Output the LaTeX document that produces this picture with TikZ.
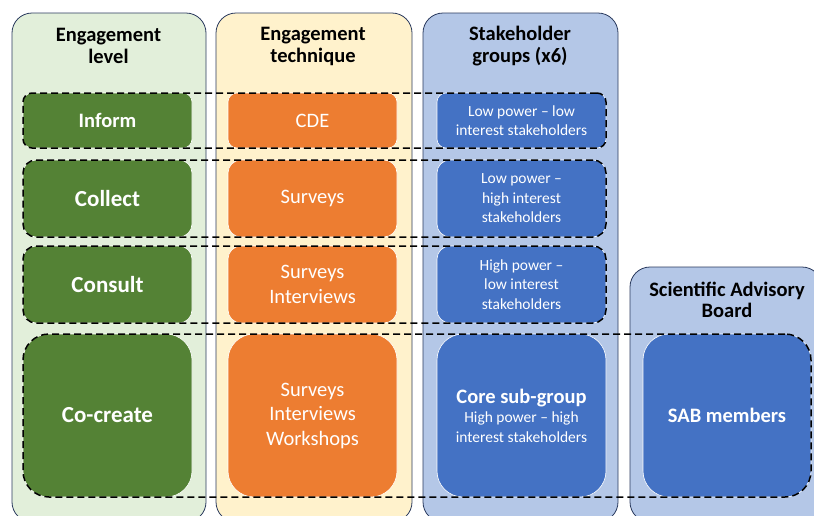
\documentclass[tikz,border=0pt]{standalone}
\usepackage{fontspec}
\setmainfont{Carlito}
\usetikzlibrary{fit}
\definecolor{lvlgreen}{HTML}{548235}
\definecolor{tecorange}{HTML}{ED7D31}
\definecolor{grpblue}{HTML}{4472C4}
\definecolor{bggreen}{HTML}{E2EFDA}
\definecolor{bgyellow}{HTML}{FFF2CC}
\definecolor{bgblue}{HTML}{B4C7E7}
\definecolor{navy}{HTML}{2A3A5E}
\tikzset{colbox/.style={draw=navy,line width=0.8pt,rounded corners=20pt,inner sep=0pt},
         head/.style={font=\bfseries\fontsize{20.5}{22}\selectfont,align=center},
         cell/.style={draw=white,line width=0.6pt,text=white,minimum width=169pt,
                      inner sep=0pt,outer sep=0pt,align=center},
         lvlbox/.style={cell,fill=lvlgreen,font=\bfseries\fontsize{23}{26}\selectfont},
         tecbox/.style={cell,fill=tecorange,font=\fontsize{20.5}{24.5}\selectfont},
         grpbox/.style={cell,fill=grpblue,font=\fontsize{15.5}{19.5}\selectfont},
         rowframe/.style={draw=black,line width=1.5pt,dash pattern=on 7pt off 4pt,inner sep=0pt},
         }
\begin{document}
\begin{tikzpicture}[x=1pt,y=-1pt]
\useasboundingbox (0,0) rectangle (814,515);

% columns
\node[colbox,fill=bggreen,minimum width=194pt,minimum height=509pt] (lvlcol) at (109,267.5) {};
\node[colbox,fill=bgyellow,minimum width=196pt,minimum height=509pt] (teccol) at (314,267.5) {};
\node[colbox,fill=bgblue,minimum width=195pt,minimum height=509pt] (grpcol) at (520.5,267.5) {};
\node[colbox,fill=bgblue,minimum width=192pt,minimum height=255pt] (sabcol) at (726,394.5) {};

\node[head] (lvlhead) at (108.5,46) {Engagement\\level};
\node[head] (techead) at (313,46) {Engagement\\technique};
\node[head] (grphead) at (520,46) {Stakeholder\\groups (x6)};
\node[head,font=\bfseries\fontsize{20.5}{21}\selectfont] (sabhead) at (727,299.5) {Scientific Advisory\\Board};

% engagement levels
\node[lvlbox,rounded corners=9pt,minimum height=55pt,font=\bfseries\fontsize{20.5}{24}\selectfont]
  (inform) at (107.5,120.5) {Inform};
\node[lvlbox,rounded corners=13pt,minimum height=77pt] (collect) at (107.5,198.5) {Collect};
\node[lvlbox,rounded corners=13pt,minimum height=77pt] (consult) at (107.5,284.5) {Consult};
\node[lvlbox,rounded corners=26pt,minimum height=163pt] (cocreate) at (107.5,415.5) {Co-create};

% techniques
\node[tecbox,rounded corners=9pt,minimum height=55pt] (cde) at (312.5,120.5) {CDE};
\node[tecbox,rounded corners=13pt,minimum height=77pt] (surveys) at (312.5,198.5) {Surveys};
\node[tecbox,rounded corners=13pt,minimum height=77pt] (survint) at (312.5,284.5) {Surveys\\Interviews};
\node[tecbox,rounded corners=26pt,minimum height=163pt] (survall) at (312.5,415.5) {Surveys\\Interviews\\Workshops};

% stakeholder groups
\node[grpbox,rounded corners=9pt,minimum height=55pt] (lowlow) at (521.5,120.5) {Low power -- low\\interest stakeholders};
\node[grpbox,rounded corners=13pt,minimum height=77pt] (lowhigh) at (521.5,198.5) {Low power --\\high interest\\stakeholders};
\node[grpbox,rounded corners=13pt,minimum height=77pt] (highlow) at (521.5,284.5) {High power --\\low interest\\stakeholders};
\node[grpbox,rounded corners=26pt,minimum height=163pt] (core) at (521.5,415.5)
  {{\bfseries\fontsize{20.5}{22}\selectfont Core sub-group}\\High power -- high\\interest stakeholders};
\node[grpbox,rounded corners=26pt,minimum height=163pt,minimum width=168pt,
  font=\bfseries\fontsize{20.5}{22}\selectfont] (sabmem) at (727,415.5) {SAB members};

% dashed rows
\node[rowframe,rounded corners=9pt,fit=(inform)(lowlow)] (row1) {};
\node[rowframe,rounded corners=13pt,fit=(collect)(lowhigh)] (row2) {};
\node[rowframe,rounded corners=13pt,fit=(consult)(highlow)] (row3) {};
\node[rowframe,rounded corners=26pt,fit=(cocreate)(sabmem)] (row4) {};
\end{tikzpicture}
\end{document}
